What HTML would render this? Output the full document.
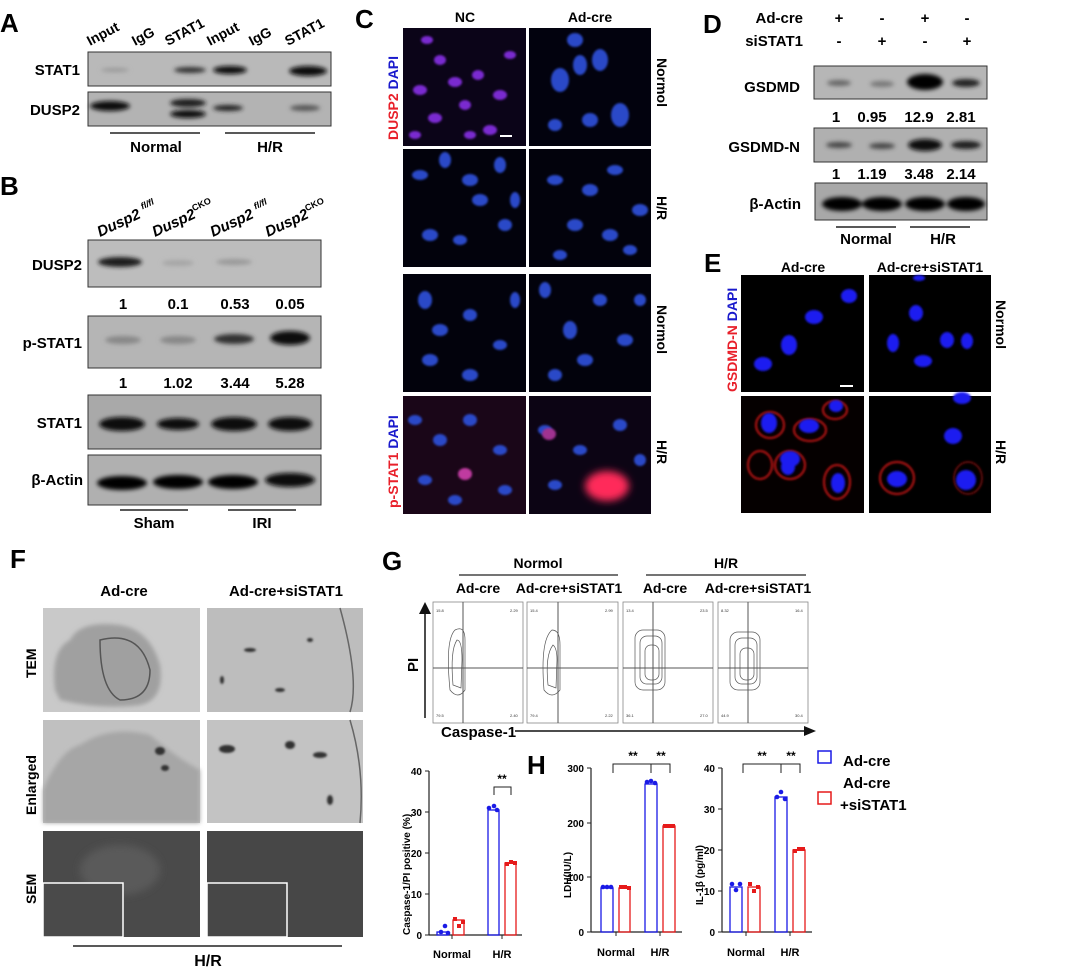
<!DOCTYPE html>
<html><head><meta charset="utf-8"><style>
html,body{margin:0;padding:0;background:#fff;}
svg{display:block;font-family:"Liberation Sans",Arial,sans-serif;font-weight:bold;}
</style></head><body>
<svg width="1080" height="971" viewBox="0 0 1080 971" xmlns="http://www.w3.org/2000/svg">
<defs>
<filter id="b2" x="-50%" y="-50%" width="200%" height="200%"><feGaussianBlur stdDeviation="2"/></filter>
<filter id="b1" x="-50%" y="-50%" width="200%" height="200%"><feGaussianBlur stdDeviation="1"/></filter>
<filter id="b4" x="-50%" y="-50%" width="200%" height="200%"><feGaussianBlur stdDeviation="4"/></filter>
</defs>
<rect width="1080" height="971" fill="#fff"/>

<!-- ===== A ===== -->
<text x="0" y="32" font-size="26">A</text>
<g font-size="14" font-weight="normal" style="font-weight:bold">
<text transform="translate(90,46) rotate(-28)">Input</text>
<text transform="translate(135,46) rotate(-28)">IgG</text>
<text transform="translate(168,46) rotate(-28)">STAT1</text>
<text transform="translate(210,46) rotate(-28)">Input</text>
<text transform="translate(252,46) rotate(-28)">IgG</text>
<text transform="translate(288,46) rotate(-28)">STAT1</text>
</g>
<text x="80" y="75" font-size="15" text-anchor="end">STAT1</text>
<text x="80" y="115" font-size="15" text-anchor="end">DUSP2</text>
<rect x="88" y="52" width="243" height="34" fill="#b9b9b9" stroke="#333"/>
<rect x="88" y="92" width="243" height="34" fill="#b3b3b3" stroke="#333"/>
<g filter="url(#b2)">
<ellipse cx="115" cy="70" rx="14" ry="2" fill="#999"/>
<ellipse cx="190" cy="70" rx="16" ry="3" fill="#333"/>
<ellipse cx="230" cy="70" rx="17" ry="4" fill="#111"/>
<ellipse cx="308" cy="71" rx="19" ry="5" fill="#0a0a0a"/>
<ellipse cx="110" cy="106" rx="20" ry="5" fill="#0a0a0a"/>
<ellipse cx="188" cy="103" rx="18" ry="4" fill="#1a1a1a"/>
<ellipse cx="188" cy="114" rx="18" ry="4" fill="#111"/>
<ellipse cx="228" cy="108" rx="15" ry="3" fill="#222"/>
<ellipse cx="305" cy="108" rx="15" ry="3" fill="#555"/>
</g>
<line x1="110" y1="133" x2="200" y2="133" stroke="#222" stroke-width="1.5"/>
<line x1="225" y1="133" x2="315" y2="133" stroke="#222" stroke-width="1.5"/>
<text x="156" y="152" font-size="15" text-anchor="middle">Normal</text>
<text x="270" y="152" font-size="15" text-anchor="middle">H/R</text>

<!-- ===== B ===== -->
<text x="0" y="195" font-size="26">B</text>
<g font-size="15" font-style="italic">
<text transform="translate(100,237) rotate(-25)">Dusp2 <tspan font-size="9" dy="-7">fl/fl</tspan></text>
<text transform="translate(155,237) rotate(-25)">Dusp2<tspan font-size="9" dy="-7" font-style="normal">CKO</tspan></text>
<text transform="translate(213,237) rotate(-25)">Dusp2 <tspan font-size="9" dy="-7">fl/fl</tspan></text>
<text transform="translate(268,237) rotate(-25)">Dusp2<tspan font-size="9" dy="-7" font-style="normal">CKO</tspan></text>
</g>
<g font-size="15" text-anchor="end">
<text x="82" y="270">DUSP2</text>
<text x="82" y="348">p-STAT1</text>
<text x="82" y="428">STAT1</text>
<text x="83" y="485">β-Actin</text>
</g>
<rect x="88" y="240" width="233" height="47" fill="#bdbdbd" stroke="#333"/>
<rect x="88" y="316" width="233" height="52" fill="#b5b5b5" stroke="#333"/>
<rect x="88" y="395" width="233" height="54" fill="#a9a9a9" stroke="#333"/>
<rect x="88" y="455" width="233" height="50" fill="#b0b0b0" stroke="#333"/>
<g filter="url(#b2)">
<ellipse cx="120" cy="262" rx="22" ry="5" fill="#1a1a1a"/>
<ellipse cx="178" cy="263" rx="16" ry="3" fill="#a5a5a5"/>
<ellipse cx="234" cy="262" rx="18" ry="3" fill="#999"/>
<ellipse cx="123" cy="340" rx="18" ry="4" fill="#888"/>
<ellipse cx="178" cy="340" rx="18" ry="4" fill="#888"/>
<ellipse cx="234" cy="339" rx="20" ry="5" fill="#333"/>
<ellipse cx="290" cy="338" rx="20" ry="7" fill="#111"/>
<ellipse cx="122" cy="424" rx="23" ry="7" fill="#0a0a0a"/>
<ellipse cx="178" cy="424" rx="21" ry="6" fill="#111"/>
<ellipse cx="234" cy="424" rx="23" ry="7" fill="#0a0a0a"/>
<ellipse cx="290" cy="424" rx="22" ry="7" fill="#111"/>
<ellipse cx="122" cy="483" rx="25" ry="7" fill="#050505"/>
<ellipse cx="178" cy="482" rx="25" ry="7" fill="#050505"/>
<ellipse cx="233" cy="482" rx="25" ry="7" fill="#050505"/>
<ellipse cx="290" cy="480" rx="25" ry="7" fill="#080808"/>
</g>
<g font-size="15" text-anchor="middle">
<text x="123" y="309">1</text><text x="178" y="309">0.1</text><text x="235" y="309">0.53</text><text x="290" y="309">0.05</text>
<text x="123" y="388">1</text><text x="178" y="388">1.02</text><text x="235" y="388">3.44</text><text x="290" y="388">5.28</text>
</g>
<line x1="120" y1="510" x2="188" y2="510" stroke="#222" stroke-width="1.5"/>
<line x1="228" y1="510" x2="296" y2="510" stroke="#222" stroke-width="1.5"/>
<text x="154" y="528" font-size="15" text-anchor="middle">Sham</text>
<text x="262" y="528" font-size="15" text-anchor="middle">IRI</text>

<!-- ===== C ===== -->
<text x="355" y="28" font-size="26">C</text>
<text x="465" y="22" font-size="14" text-anchor="middle">NC</text>
<text x="590" y="22" font-size="14" text-anchor="middle">Ad-cre</text>
<g>
<rect x="403" y="28" width="123" height="118" fill="#0b0418"/>
<rect x="529" y="28" width="122" height="118" fill="#02020e"/>
<rect x="403" y="149" width="123" height="118" fill="#02020c"/>
<rect x="529" y="149" width="122" height="118" fill="#02020c"/>
<rect x="403" y="274" width="123" height="118" fill="#02020c"/>
<rect x="529" y="274" width="122" height="118" fill="#02020c"/>
<rect x="403" y="396" width="123" height="118" fill="#1a0618"/>
<rect x="529" y="396" width="122" height="118" fill="#0c0414"/>
</g>
<g fill="#7a2ad0" filter="url(#b1)">
<ellipse cx="420" cy="90" rx="7" ry="5"/><ellipse cx="440" cy="60" rx="6" ry="5"/><ellipse cx="455" cy="82" rx="7" ry="5"/><ellipse cx="478" cy="75" rx="6" ry="5"/><ellipse cx="500" cy="95" rx="7" ry="5"/><ellipse cx="435" cy="118" rx="7" ry="5"/><ellipse cx="465" cy="105" rx="6" ry="5"/><ellipse cx="490" cy="130" rx="7" ry="5"/><ellipse cx="415" cy="135" rx="6" ry="4"/><ellipse cx="510" cy="55" rx="6" ry="4"/><ellipse cx="470" cy="135" rx="6" ry="4"/><ellipse cx="427" cy="40" rx="6" ry="4"/>
</g>
<g fill="#2a48c8" filter="url(#b1)">
<ellipse cx="560" cy="80" rx="9" ry="12"/><ellipse cx="580" cy="65" rx="7" ry="10"/><ellipse cx="600" cy="60" rx="8" ry="11"/><ellipse cx="620" cy="115" rx="9" ry="12"/><ellipse cx="590" cy="120" rx="8" ry="7"/><ellipse cx="555" cy="125" rx="7" ry="6"/><ellipse cx="575" cy="40" rx="8" ry="7"/>
<ellipse cx="420" cy="175" rx="8" ry="5"/><ellipse cx="445" cy="160" rx="6" ry="8"/><ellipse cx="470" cy="180" rx="8" ry="6"/><ellipse cx="500" cy="165" rx="6" ry="8"/><ellipse cx="480" cy="200" rx="8" ry="6"/><ellipse cx="430" cy="235" rx="8" ry="6"/><ellipse cx="460" cy="240" rx="7" ry="5"/><ellipse cx="505" cy="225" rx="7" ry="6"/><ellipse cx="515" cy="200" rx="5" ry="8"/>
<ellipse cx="555" cy="180" rx="8" ry="5"/><ellipse cx="590" cy="190" rx="8" ry="6"/><ellipse cx="615" cy="170" rx="8" ry="5"/><ellipse cx="640" cy="210" rx="8" ry="6"/><ellipse cx="575" cy="225" rx="8" ry="6"/><ellipse cx="610" cy="235" rx="8" ry="6"/><ellipse cx="560" cy="255" rx="7" ry="5"/><ellipse cx="630" cy="250" rx="7" ry="5"/>
<ellipse cx="425" cy="300" rx="7" ry="9"/><ellipse cx="440" cy="330" rx="8" ry="6"/><ellipse cx="470" cy="315" rx="7" ry="6"/><ellipse cx="500" cy="345" rx="7" ry="5"/><ellipse cx="430" cy="360" rx="8" ry="6"/><ellipse cx="470" cy="375" rx="8" ry="6"/><ellipse cx="515" cy="300" rx="5" ry="8"/>
<ellipse cx="545" cy="290" rx="6" ry="8"/><ellipse cx="570" cy="330" rx="7" ry="9"/><ellipse cx="600" cy="300" rx="7" ry="6"/><ellipse cx="625" cy="340" rx="8" ry="6"/><ellipse cx="585" cy="360" rx="8" ry="6"/><ellipse cx="555" cy="375" rx="7" ry="6"/><ellipse cx="640" cy="300" rx="6" ry="6"/>
<ellipse cx="415" cy="420" rx="7" ry="5"/><ellipse cx="440" cy="440" rx="7" ry="6"/><ellipse cx="470" cy="420" rx="7" ry="6"/><ellipse cx="500" cy="450" rx="7" ry="5"/><ellipse cx="425" cy="480" rx="7" ry="5"/><ellipse cx="455" cy="500" rx="7" ry="5"/><ellipse cx="505" cy="490" rx="7" ry="5"/>
<ellipse cx="545" cy="430" rx="7" ry="5"/><ellipse cx="580" cy="450" rx="7" ry="5"/><ellipse cx="620" cy="425" rx="7" ry="6"/><ellipse cx="555" cy="485" rx="7" ry="5"/><ellipse cx="640" cy="460" rx="6" ry="6"/>
</g>
<g filter="url(#b4)"><ellipse cx="607" cy="486" rx="22" ry="15" fill="#ff2a5a"/></g>
<ellipse cx="465" cy="474" rx="7" ry="6" fill="#c03aa0" filter="url(#b1)"/>
<ellipse cx="549" cy="434" rx="7" ry="6" fill="#a03090" filter="url(#b1)"/>
<line x1="500" y1="136" x2="512" y2="136" stroke="#fff" stroke-width="2"/>
<text transform="translate(398,140) rotate(-90)" font-size="14"><tspan fill="#e8202a">DUSP2</tspan> <tspan fill="#1a1acc">DAPI</tspan></text>
<text transform="translate(398,508) rotate(-90)" font-size="14"><tspan fill="#e8202a">p-STAT1</tspan> <tspan fill="#1a1acc">DAPI</tspan></text>
<g font-size="14">
<text transform="translate(657,58) rotate(90)">Normol</text>
<text transform="translate(657,196) rotate(90)">H/R</text>
<text transform="translate(657,305) rotate(90)">Normol</text>
<text transform="translate(657,440) rotate(90)">H/R</text>
</g>

<!-- ===== D ===== -->
<text x="703" y="33" font-size="26">D</text>
<g font-size="15">
<text x="803" y="23" text-anchor="end">Ad-cre</text>
<text x="803" y="46" text-anchor="end">siSTAT1</text>
</g>
<g font-size="15" text-anchor="middle">
<text x="839" y="23">+</text><text x="882" y="23">-</text><text x="925" y="23">+</text><text x="967" y="23">-</text>
<text x="839" y="46">-</text><text x="882" y="46">+</text><text x="925" y="46">-</text><text x="967" y="46">+</text>
</g>
<g font-size="15" text-anchor="end">
<text x="800" y="92">GSDMD</text>
<text x="800" y="152">GSDMD-N</text>
<text x="801" y="209">β-Actin</text>
</g>
<rect x="814" y="66" width="173" height="33" fill="#b6b6b6" stroke="#333"/>
<rect x="814" y="128" width="173" height="34" fill="#b0b0b0" stroke="#333"/>
<rect x="815" y="183" width="172" height="37" fill="#a8a8a8" stroke="#333"/>
<g filter="url(#b2)">
<ellipse cx="839" cy="83" rx="12" ry="3" fill="#666"/>
<ellipse cx="882" cy="84" rx="12" ry="3" fill="#777"/>
<ellipse cx="925" cy="82" rx="18" ry="8" fill="#050505"/>
<ellipse cx="966" cy="83" rx="14" ry="4" fill="#222"/>
<ellipse cx="839" cy="145" rx="13" ry="3" fill="#444"/>
<ellipse cx="882" cy="146" rx="13" ry="3" fill="#444"/>
<ellipse cx="925" cy="145" rx="17" ry="6" fill="#0a0a0a"/>
<ellipse cx="966" cy="145" rx="15" ry="4" fill="#1a1a1a"/>
<ellipse cx="842" cy="204" rx="20" ry="7" fill="#050505"/>
<ellipse cx="882" cy="204" rx="20" ry="7" fill="#050505"/>
<ellipse cx="925" cy="204" rx="20" ry="7" fill="#050505"/>
<ellipse cx="966" cy="204" rx="19" ry="7" fill="#050505"/>
</g>
<g font-size="15" text-anchor="middle">
<text x="836" y="122">1</text><text x="872" y="122">0.95</text><text x="919" y="122">12.9</text><text x="961" y="122">2.81</text>
<text x="836" y="179">1</text><text x="872" y="179">1.19</text><text x="919" y="179">3.48</text><text x="961" y="179">2.14</text>
</g>
<line x1="836" y1="227" x2="896" y2="227" stroke="#222" stroke-width="1.5"/>
<line x1="910" y1="227" x2="970" y2="227" stroke="#222" stroke-width="1.5"/>
<text x="866" y="244" font-size="15" text-anchor="middle">Normal</text>
<text x="943" y="244" font-size="15" text-anchor="middle">H/R</text>

<!-- ===== E ===== -->
<text x="704" y="272" font-size="26">E</text>
<text x="803" y="272" font-size="14" text-anchor="middle">Ad-cre</text>
<text x="930" y="272" font-size="14" text-anchor="middle">Ad-cre+siSTAT1</text>
<rect x="741" y="275" width="123" height="117" fill="#000"/>
<rect x="869" y="275" width="122" height="117" fill="#000"/>
<rect x="741" y="396" width="123" height="117" fill="#050000"/>
<rect x="869" y="396" width="122" height="117" fill="#000"/>
<g fill="none" stroke="#c01818" stroke-width="2" filter="url(#b1)">
<ellipse cx="770" cy="425" rx="14" ry="13"/><ellipse cx="810" cy="430" rx="16" ry="11"/><ellipse cx="790" cy="465" rx="15" ry="14"/><ellipse cx="837" cy="482" rx="13" ry="17"/><ellipse cx="760" cy="465" rx="12" ry="14"/><ellipse cx="835" cy="410" rx="12" ry="9"/>
<ellipse cx="897" cy="478" rx="17" ry="16"/><ellipse cx="968" cy="478" rx="14" ry="16" stroke-width="1"/>
</g>
<g fill="#1b1bf0" filter="url(#b1)">
<ellipse cx="763" cy="364" rx="9" ry="7"/><ellipse cx="789" cy="345" rx="8" ry="10"/><ellipse cx="814" cy="317" rx="9" ry="7"/><ellipse cx="849" cy="296" rx="8" ry="7"/>
<ellipse cx="893" cy="343" rx="6" ry="9"/><ellipse cx="916" cy="313" rx="7" ry="8"/><ellipse cx="923" cy="361" rx="9" ry="6"/><ellipse cx="947" cy="340" rx="7" ry="8"/><ellipse cx="967" cy="341" rx="6" ry="8"/><ellipse cx="919" cy="278" rx="6" ry="3"/>
<ellipse cx="769" cy="423" rx="8" ry="10"/><ellipse cx="809" cy="426" rx="10" ry="7"/><ellipse cx="836" cy="406" rx="7" ry="6"/><ellipse cx="790" cy="459" rx="10" ry="8"/><ellipse cx="788" cy="467" rx="7" ry="8"/><ellipse cx="838" cy="483" rx="7" ry="10"/>
<ellipse cx="897" cy="479" rx="10" ry="8"/><ellipse cx="962" cy="398" rx="9" ry="6"/><ellipse cx="953" cy="436" rx="9" ry="8"/><ellipse cx="966" cy="480" rx="10" ry="10"/>
</g>
<line x1="840" y1="386" x2="853" y2="386" stroke="#fff" stroke-width="2"/>
<text transform="translate(737,392) rotate(-90)" font-size="14"><tspan fill="#e8202a">GSDMD-N</tspan> <tspan fill="#1a1acc">DAPI</tspan></text>
<text transform="translate(996,300) rotate(90)" font-size="14">Normol</text>
<text transform="translate(996,440) rotate(90)" font-size="14">H/R</text>

<!-- ===== F ===== -->
<text x="10" y="568" font-size="26">F</text>
<text x="124" y="596" font-size="15" text-anchor="middle">Ad-cre</text>
<text x="286" y="596" font-size="15" text-anchor="middle">Ad-cre+siSTAT1</text>
<rect x="43" y="608" width="157" height="104" fill="#c9c9c9"/>
<rect x="207" y="608" width="156" height="104" fill="#bdbdbd"/>
<rect x="43" y="720" width="157" height="103" fill="#c0c0c0"/>
<rect x="207" y="720" width="156" height="103" fill="#c3c3c3"/>
<path d="M55 690 Q50 650 70 640 Q80 620 120 625 Q150 630 160 665 Q165 700 140 705 Q100 710 60 700Z" fill="#a0a0a0" filter="url(#b2)"/>
<path d="M100 640 Q140 630 150 670 Q150 700 120 700 Q100 690 100 640Z" fill="none" stroke="#555" stroke-width="1.5"/>
<path d="M43 790 Q60 750 80 745 Q110 725 150 735 Q180 760 200 770 L200 823 L43 823Z" fill="#a6a6a6" filter="url(#b2)"/>
<path d="M340 608 Q360 680 350 712" fill="none" stroke="#666" stroke-width="1.5"/>
<path d="M350 720 Q365 770 360 823" fill="none" stroke="#666" stroke-width="1.5"/>
<g fill="#333" filter="url(#b1)">
<ellipse cx="250" cy="650" rx="6" ry="2"/><ellipse cx="280" cy="690" rx="5" ry="2"/><ellipse cx="310" cy="640" rx="3" ry="2"/><ellipse cx="222" cy="680" rx="2" ry="4"/>
<ellipse cx="227" cy="749" rx="8" ry="4"/><ellipse cx="290" cy="745" rx="5" ry="4"/><ellipse cx="320" cy="755" rx="7" ry="3"/><ellipse cx="330" cy="800" rx="3" ry="5"/>
<ellipse cx="160" cy="751" rx="5" ry="4"/><ellipse cx="165" cy="768" rx="4" ry="3"/>
</g>
<rect x="43" y="831" width="157" height="106" fill="#4a4a4a"/>
<rect x="207" y="831" width="156" height="106" fill="#474747"/>
<ellipse cx="120" cy="870" rx="40" ry="25" fill="#5a5a5a" filter="url(#b4)"/>
<rect x="43" y="883" width="80" height="54" fill="#4a4a4a" stroke="#fff" stroke-width="1.5"/>
<rect x="207" y="883" width="80" height="54" fill="#474747" stroke="#fff" stroke-width="1.5"/>
<g font-size="14">
<text transform="translate(36,678) rotate(-90)">TEM</text>
<text transform="translate(36,815) rotate(-90)">Enlarged</text>
<text transform="translate(36,904) rotate(-90)">SEM</text>
</g>
<line x1="73" y1="946" x2="342" y2="946" stroke="#222" stroke-width="1.5"/>
<text x="208" y="966" font-size="16" text-anchor="middle">H/R</text>

<!-- ===== G ===== -->
<text x="382" y="570" font-size="26">G</text>
<text x="538" y="568" font-size="14" text-anchor="middle">Normol</text>
<text x="726" y="568" font-size="14" text-anchor="middle">H/R</text>
<line x1="459" y1="575" x2="618" y2="575" stroke="#222" stroke-width="1.2"/>
<line x1="646" y1="575" x2="806" y2="575" stroke="#222" stroke-width="1.2"/>
<g font-size="14" text-anchor="middle">
<text x="478" y="593">Ad-cre</text><text x="569" y="593">Ad-cre+siSTAT1</text>
<text x="665" y="593">Ad-cre</text><text x="758" y="593">Ad-cre+siSTAT1</text>
</g>
<g fill="#fff" stroke="#888" stroke-width="0.8">
<rect x="433" y="602" width="90" height="121"/>
<rect x="527" y="602" width="91" height="121"/>
<rect x="623" y="602" width="90" height="121"/>
<rect x="718" y="602" width="90" height="121"/>
</g>
<g fill="none" stroke="#555" stroke-width="0.7">
<path d="M450 690 Q445 640 455 630 Q465 625 465 640 L465 690 Q458 700 450 690Z"/>
<path d="M453 685 Q450 650 457 640 Q462 640 462 660 L461 688Z"/>
<path d="M544 690 Q540 640 552 630 Q560 630 560 645 L560 690 Q552 700 544 690Z"/>
<path d="M548 685 Q545 655 553 645 Q557 648 557 660 L556 688Z"/>
<rect x="635" y="630" width="30" height="60" rx="8"/><rect x="640" y="636" width="22" height="48" rx="7"/><rect x="645" y="645" width="14" height="35" rx="6"/>
<rect x="730" y="632" width="30" height="58" rx="8"/><rect x="735" y="638" width="22" height="46" rx="7"/><rect x="740" y="648" width="14" height="32" rx="6"/>
</g>
<g stroke="#555" stroke-width="1">
<line x1="433" y1="668" x2="523" y2="668"/><line x1="463" y1="602" x2="463" y2="723"/>
<line x1="527" y1="668" x2="618" y2="668"/><line x1="558" y1="602" x2="558" y2="723"/>
<line x1="623" y1="668" x2="713" y2="668"/><line x1="653" y1="602" x2="653" y2="723"/>
<line x1="718" y1="668" x2="808" y2="668"/><line x1="748" y1="602" x2="748" y2="723"/>
</g>
<g font-size="4" font-weight="normal" fill="#333">
<text x="436" y="612">15.8</text><text x="510" y="612">2.29</text><text x="436" y="717">79.5</text><text x="510" y="717">2.40</text>
<text x="530" y="612">15.4</text><text x="605" y="612">2.99</text><text x="530" y="717">79.4</text><text x="605" y="717">2.22</text>
<text x="626" y="612">13.4</text><text x="700" y="612">23.5</text><text x="626" y="717">36.1</text><text x="700" y="717">27.0</text>
<text x="721" y="612">8.32</text><text x="795" y="612">16.4</text><text x="721" y="717">44.9</text><text x="795" y="717">30.4</text>
</g>
<line x1="425" y1="718" x2="425" y2="612" stroke="#111" stroke-width="1.5"/>
<polygon points="419,614 431,614 425,602" fill="#111"/>
<text transform="translate(418,672) rotate(-90)" font-size="15">PI</text>
<text x="441" y="737" font-size="15">Caspase-1</text>
<line x1="515" y1="731" x2="806" y2="731" stroke="#111" stroke-width="1.5"/>
<polygon points="804,726 816,731 804,736" fill="#111"/>

<!-- ===== Bar chart 1 ===== -->
<g font-size="10">
<line x1="429" y1="771" x2="429" y2="935" stroke="#222" stroke-width="1.2"/>
<line x1="429" y1="935" x2="522" y2="935" stroke="#222" stroke-width="1.2"/>
<g stroke="#222"><line x1="425" y1="771" x2="429" y2="771"/><line x1="425" y1="812" x2="429" y2="812"/><line x1="425" y1="853" x2="429" y2="853"/><line x1="425" y1="894" x2="429" y2="894"/><line x1="425" y1="935" x2="429" y2="935"/>
<line x1="452" y1="935" x2="452" y2="939"/><line x1="502" y1="935" x2="502" y2="939"/></g>
<g text-anchor="end"><text x="422" y="775">40</text><text x="422" y="816">30</text><text x="422" y="857">20</text><text x="422" y="898">10</text><text x="422" y="939">0</text></g>
<rect x="437" y="932" width="11" height="3" fill="none" stroke="#1a1ae6" stroke-width="1.3"/>
<rect x="453" y="920" width="11" height="15" fill="none" stroke="#e61a1a" stroke-width="1.3"/>
<rect x="488" y="810" width="11" height="125" fill="none" stroke="#1a1ae6" stroke-width="1.3"/>
<rect x="505" y="863" width="11" height="72" fill="none" stroke="#e61a1a" stroke-width="1.3"/>
<g fill="#1a1ae6"><circle cx="441" cy="932" r="2.3"/><circle cx="445" cy="926" r="2.3"/><circle cx="448" cy="933" r="2.3"/><circle cx="489" cy="808" r="2.3"/><circle cx="494" cy="806" r="2.3"/><circle cx="497" cy="810" r="2.3"/></g>
<g fill="#e61a1a"><rect x="453" y="917" width="4" height="4"/><rect x="457" y="924" width="4" height="4"/><rect x="461" y="920" width="4" height="4"/><rect x="505" y="862" width="4" height="4"/><rect x="509" y="860" width="4" height="4"/><rect x="513" y="861" width="4" height="4"/></g>
<path d="M494 795 L494 787 L511 787 L511 795" fill="none" stroke="#222"/>
<text x="502" y="783" font-size="12" text-anchor="middle">**</text>
<text x="452" y="958" font-size="11" text-anchor="middle">Normal</text>
<text x="502" y="958" font-size="11" text-anchor="middle">H/R</text>
<text transform="translate(410,935) rotate(-90)" font-size="10">Caspase-1/PI positive (%)</text>
</g>

<!-- ===== H ===== -->
<text x="527" y="774" font-size="26">H</text>
<g font-size="10">
<line x1="591" y1="768" x2="591" y2="932" stroke="#222" stroke-width="1.2"/>
<line x1="591" y1="932" x2="682" y2="932" stroke="#222" stroke-width="1.2"/>
<g stroke="#222"><line x1="587" y1="768" x2="591" y2="768"/><line x1="587" y1="823" x2="591" y2="823"/><line x1="587" y1="877" x2="591" y2="877"/><line x1="587" y1="932" x2="591" y2="932"/>
<line x1="616" y1="932" x2="616" y2="936"/><line x1="660" y1="932" x2="660" y2="936"/></g>
<g text-anchor="end"><text x="584" y="772">300</text><text x="584" y="827">200</text><text x="584" y="881">100</text><text x="584" y="936">0</text></g>
<rect x="601" y="888" width="12" height="44" fill="none" stroke="#1a1ae6" stroke-width="1.3"/>
<rect x="619" y="888" width="11" height="44" fill="none" stroke="#e61a1a" stroke-width="1.3"/>
<rect x="645" y="784" width="12" height="148" fill="none" stroke="#1a1ae6" stroke-width="1.3"/>
<rect x="663" y="826" width="12" height="106" fill="none" stroke="#e61a1a" stroke-width="1.3"/>
<g fill="#1a1ae6"><circle cx="603" cy="887" r="2.3"/><circle cx="607" cy="887" r="2.3"/><circle cx="611" cy="887" r="2.3"/><circle cx="647" cy="782" r="2.3"/><circle cx="651" cy="781" r="2.3"/><circle cx="655" cy="783" r="2.3"/></g>
<g fill="#e61a1a"><rect x="619" y="885" width="4" height="4"/><rect x="623" y="885" width="4" height="4"/><rect x="627" y="886" width="4" height="4"/><rect x="663" y="824" width="4" height="4"/><rect x="667" y="824" width="4" height="4"/><rect x="671" y="824" width="4" height="4"/></g>
<path d="M613 773 L613 764 L670 764 L670 773 M651 764 L651 773" fill="none" stroke="#222"/>
<text x="633" y="760" font-size="12" text-anchor="middle">**</text>
<text x="661" y="760" font-size="12" text-anchor="middle">**</text>
<text x="616" y="956" font-size="11" text-anchor="middle">Normal</text>
<text x="660" y="956" font-size="11" text-anchor="middle">H/R</text>
<text transform="translate(571,898) rotate(-90)" font-size="10">LDH(IU/L)</text>
</g>
<g font-size="10">
<line x1="722" y1="768" x2="722" y2="932" stroke="#222" stroke-width="1.2"/>
<line x1="722" y1="932" x2="812" y2="932" stroke="#222" stroke-width="1.2"/>
<g stroke="#222"><line x1="718" y1="768" x2="722" y2="768"/><line x1="718" y1="809" x2="722" y2="809"/><line x1="718" y1="850" x2="722" y2="850"/><line x1="718" y1="891" x2="722" y2="891"/><line x1="718" y1="932" x2="722" y2="932"/>
<line x1="746" y1="932" x2="746" y2="936"/><line x1="790" y1="932" x2="790" y2="936"/></g>
<g text-anchor="end"><text x="715" y="772">40</text><text x="715" y="813">30</text><text x="715" y="854">20</text><text x="715" y="895">10</text><text x="715" y="936">0</text></g>
<rect x="730" y="887" width="12" height="45" fill="none" stroke="#1a1ae6" stroke-width="1.3"/>
<rect x="748" y="887" width="12" height="45" fill="none" stroke="#e61a1a" stroke-width="1.3"/>
<rect x="775" y="797" width="12" height="135" fill="none" stroke="#1a1ae6" stroke-width="1.3"/>
<rect x="793" y="850" width="12" height="82" fill="none" stroke="#e61a1a" stroke-width="1.3"/>
<g fill="#1a1ae6"><circle cx="732" cy="884" r="2.3"/><circle cx="736" cy="890" r="2.3"/><circle cx="740" cy="884" r="2.3"/><circle cx="777" cy="797" r="2.3"/><circle cx="781" cy="792" r="2.3"/><circle cx="785" cy="799" r="2.3"/></g>
<g fill="#e61a1a"><rect x="748" y="882" width="4" height="4"/><rect x="752" y="889" width="4" height="4"/><rect x="756" y="885" width="4" height="4"/><rect x="793" y="849" width="4" height="4"/><rect x="797" y="847" width="4" height="4"/><rect x="801" y="847" width="4" height="4"/></g>
<path d="M743 773 L743 764 L800 764 L800 773 M781 764 L781 773" fill="none" stroke="#222"/>
<text x="762" y="760" font-size="12" text-anchor="middle">**</text>
<text x="791" y="760" font-size="12" text-anchor="middle">**</text>
<text x="746" y="956" font-size="11" text-anchor="middle">Normal</text>
<text x="790" y="956" font-size="11" text-anchor="middle">H/R</text>
<text transform="translate(703,905) rotate(-90)" font-size="10">IL-1β  (pg/ml)</text>
</g>

<!-- Legend -->
<rect x="818" y="751" width="13" height="12" fill="none" stroke="#1a1ae6" stroke-width="1.5"/>
<rect x="818" y="792" width="13" height="12" fill="none" stroke="#e61a1a" stroke-width="1.5"/>
<text x="843" y="766" font-size="15">Ad-cre</text>
<text x="843" y="788" font-size="15">Ad-cre</text>
<text x="840" y="810" font-size="15">+siSTAT1</text>
</svg>
</body></html>
